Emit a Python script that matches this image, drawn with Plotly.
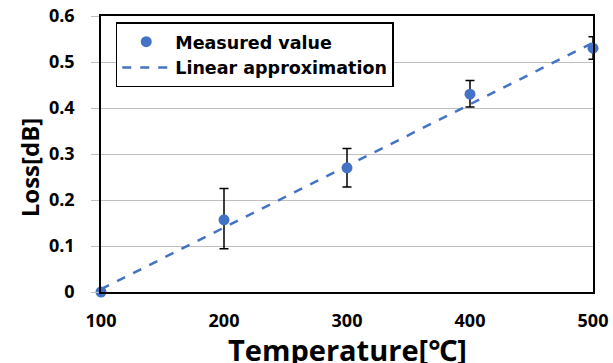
import plotly.graph_objects as go

temperature = [100, 200, 300, 400, 500]
loss = [0.0, 0.157, 0.270, 0.430, 0.530]
err_plus = [0.0, 0.068, 0.042, 0.030, 0.025]
err_minus = [0.0, 0.063, 0.042, 0.028, 0.024]

fit_x = [100, 500]
fit_y = [0.006, 0.542]

y_ticks = [0, 0.1, 0.2, 0.3, 0.4, 0.5, 0.6]
y_ticktext = ["0", "0.1", "0.2", "0.3", "0.4", "0.5", "0.6"]
x_ticks = [100, 200, 300, 400, 500]

x_title = "Temperature[℃]"
y_title = "Loss[dB]"

blue = "#4472C4"
font_family = "'Open Sans', 'Noto Sans', sans-serif"
legend_family = "'DejaVu Sans', 'Open Sans', sans-serif"

fig = go.Figure()
fig.add_trace(go.Scatter(
    x=temperature, y=loss, mode="markers", name="Measured value",
    marker=dict(color=blue, size=11),
    error_y=dict(type="data", symmetric=False, array=err_plus, arrayminus=err_minus,
                 color="black", thickness=1.5, width=4.5),
    cliponaxis=False,
))
fig.add_trace(go.Scatter(
    x=fit_x, y=fit_y, mode="lines", name="Linear approximation",
    line=dict(color=blue, width=2.5, dash="dash"),
    cliponaxis=False,
))

fig.update_layout(
    width=613, height=363,
    margin=dict(l=101, r=20, t=16, b=71, autoexpand=False),
    paper_bgcolor="white", plot_bgcolor="white",
    font=dict(family=font_family, color="black"),
    showlegend=True,
    legend=dict(
        x=0.03, y=0.977, xanchor="left", yanchor="top",
        bgcolor="white", bordercolor="black", borderwidth=1.5,
        font=dict(size=17.5, family=legend_family, weight="bold"),
        itemwidth=48, tracegroupgap=0,
    ),
    xaxis=dict(
        range=[100, 500], tickvals=x_ticks,
        showgrid=False, zeroline=False, automargin=False,
        showline=True, linecolor="black", linewidth=1.5, mirror=True,
        ticks="", ticklabelstandoff=12,
        tickfont=dict(size=18, weight="bold"),
    ),
    yaxis=dict(
        range=[0, 0.6], tickvals=y_ticks, ticktext=y_ticktext,
        showgrid=True, gridcolor="#BFBFBF", gridwidth=1, zeroline=False, automargin=False,
        showline=True, linecolor="black", linewidth=1.5, mirror=True,
        ticks="outside", ticklen=8, tickcolor="#BFBFBF",
        ticklabelstandoff=13,
        tickfont=dict(size=18, weight="bold"),
    ),
    annotations=[
        dict(text=x_title, xref="paper", yref="paper", x=0.5, y=-0.13,
             xanchor="center", yanchor="top", showarrow=False,
             font=dict(size=29, weight="bold")),
        dict(text=y_title, xref="paper", yref="paper", x=-0.146, y=0.449,
             xanchor="center", yanchor="middle", textangle=-90, showarrow=False,
             font=dict(size=24, weight="bold")),
    ],
)

fig.write_html("out.html", config={"displayModeBar": False},
               post_script="document.body.style.margin='0';")
